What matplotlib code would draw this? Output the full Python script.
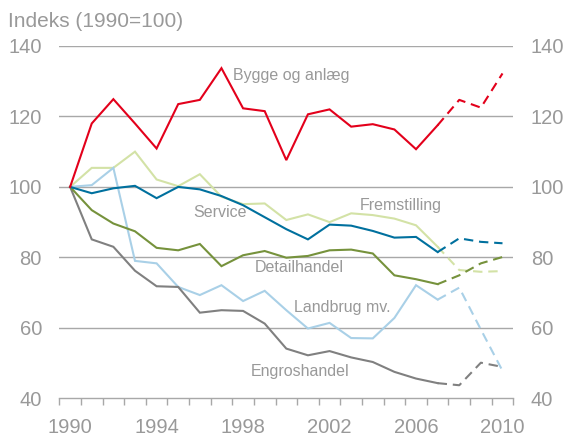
import numpy as np
import matplotlib.pyplot as plt
from matplotlib.ticker import MultipleLocator, FixedLocator

plt.rcParams["font.family"] = ["Liberation Sans", "DejaVu Sans"]

years = list(range(1990, 2011))
split_year = 2007  # dashed from here on (forecast)

bygge = [100, 118.0, 124.9, 118.0, 110.9, 123.5, 124.7, 133.7, 122.3, 121.5, 107.6,
         120.6, 122.0, 117.1, 117.8, 116.3, 110.7, 117.5, 124.7, 122.5, 132.2]
service = [100, 98.2, 99.6, 100.3, 96.8, 100.0, 99.3, 97.4, 94.8, 91.4, 88.0,
           85.1, 89.3, 89.0, 87.5, 85.6, 85.8, 81.5, 85.4, 84.4, 84.0]
fremstilling = [100, 105.4, 105.4, 110.0, 102.1, 100.2, 103.6, 97.2, 95.1, 95.3, 90.6,
                92.2, 90.0, 92.5, 92.0, 91.0, 89.1, 83.0, 76.4, 75.9, 76.1]
detailhandel = [100, 93.4, 89.6, 87.4, 82.7, 82.0, 83.8, 77.5, 80.6, 81.8, 79.9,
                80.4, 82.0, 82.2, 81.1, 74.9, 73.8, 72.4, 74.9, 78.3, 80.1]
landbrug = [100, 100.5, 105.4, 79.0, 78.3, 71.6, 69.3, 72.1, 67.6, 70.5, 65.0,
            59.8, 61.4, 57.1, 57.0, 62.8, 72.1, 68.0, 71.4, 59.5, 47.8]
engros = [100, 85.1, 83.0, 76.2, 71.8, 71.6, 64.3, 65.0, 64.8, 61.2, 54.1,
          52.2, 53.4, 51.6, 50.3, 47.5, 45.6, 44.3, 43.7, 50.1, 48.9]

series = [
    (fremstilling, "#d3e2a6"),
    (landbrug, "#a9d0e7"),
    (engros, "#808080"),
    (detailhandel, "#76923c"),
    (service, "#00709e"),
    (bygge, "#e3001b"),
]

labels = [
    ("Bygge og anlæg", 1997.52, 131.5, "left"),
    ("Fremstilling", 2005.28, 94.8, "center"),
    ("Service", 1996.93, 92.6, "center"),
    ("Detailhandel", 2000.59, 77.0, "center"),
    ("Landbrug mv.", 2002.6, 65.8, "center"),
    ("Engroshandel", 2000.63, 47.7, "center"),
]

grid_col = "#a8a8a8"
text_col = "#999999"

fig = plt.figure(figsize=(5.66, 4.42), dpi=100)
ax = fig.add_axes([0.1048, 0.0989, 0.8021, 0.7971])

for yv in [60, 80, 100, 120, 140]:
    ax.axhline(yv, color=grid_col, lw=1.0, zorder=1)

x = np.array(years)
k = years.index(split_year)
for vals, col in series:
    v = np.array(vals)
    ax.plot(x[:k + 1], v[:k + 1], color=col, lw=1.5, zorder=3,
            solid_joinstyle="miter")
    ax.plot(x[k:], v[k:], color=col, lw=1.5, zorder=3,
            linestyle=(0, (4.5, 2.8)))

for txt, xx, yy, ha in labels:
    ax.text(xx, yy, txt, color=text_col, fontsize=11.5, ha=ha, va="center", zorder=4)

ax.set_xlim(1989.5, 2010.5)
ax.set_ylim(40, 140)

ax.xaxis.set_major_locator(FixedLocator(years[::4]))
ax.xaxis.set_minor_locator(MultipleLocator(1, offset=0.5))
ax.tick_params(axis="x", which="major", length=0, pad=14, labelsize=14.5, labelcolor=text_col)
ax.tick_params(axis="x", which="minor", length=5, width=1.0, color=grid_col, direction="out")

ax.set_yticks([40, 60, 80, 100, 120, 140])
ax.tick_params(axis="y", which="both", length=0, labelsize=14.5, labelcolor=text_col,
               pad=12.5, labelright=True, right=False)

for side in ["left", "right", "top"]:
    ax.spines[side].set_visible(False)
ax.spines["bottom"].set_color(grid_col)
ax.spines["bottom"].set_linewidth(1.0)

fig.text(8 / 566, 0.94, "Indeks (1990=100)", color=text_col, fontsize=15,
         ha="left", va="baseline")

fig.savefig("out.png", dpi=100)
